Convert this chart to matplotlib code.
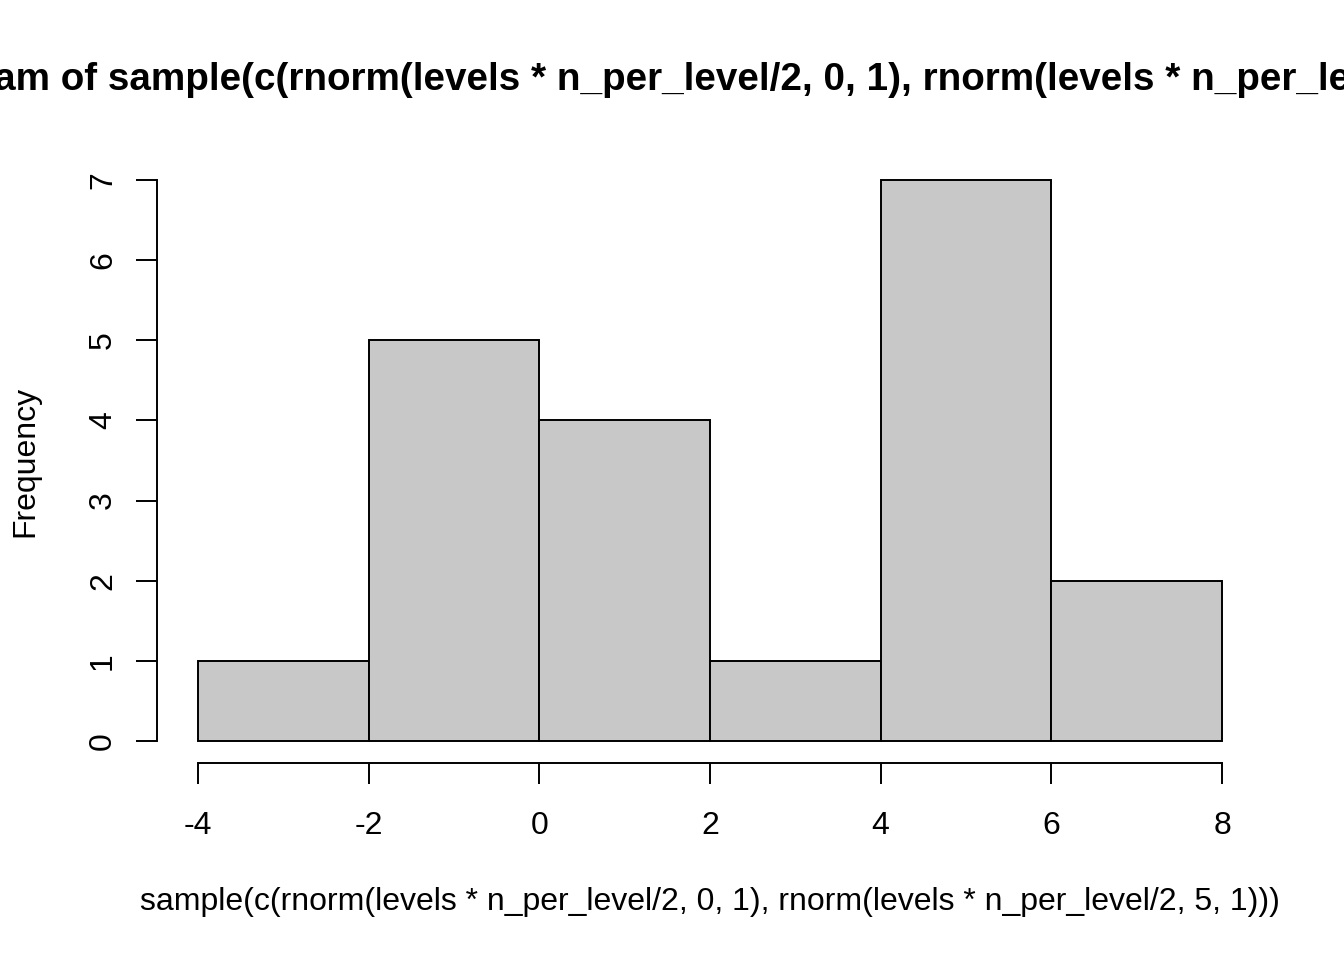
import matplotlib
matplotlib.use("Agg")
import matplotlib.pyplot as plt

bin_edges = [-4, -2, 0, 2, 4, 6, 8]
counts = [1, 5, 4, 1, 7, 2]
x_ticks = [-4, -2, 0, 2, 4, 6, 8]
y_ticks = [0, 1, 2, 3, 4, 5, 6, 7]
title = "Histogram of sample(c(rnorm(levels * n_per_level/2, 0, 1), rnorm(levels * n_per_level/2, 5, 1)))"
xlabel = "sample(c(rnorm(levels * n_per_level/2, 0, 1), rnorm(levels * n_per_level/2, 5, 1)))"
ylabel = "Frequency"

plt.rcParams['font.family'] = ['Liberation Sans', 'DejaVu Sans']
fig = plt.figure(figsize=(13.44, 9.6), dpi=100)
ax = fig.add_axes([157/1344, 1-763.4/960, (1263-157)/1344, (763.4-157.6)/960])

widths = [bin_edges[i+1]-bin_edges[i] for i in range(len(counts))]
ax.bar(bin_edges[:-1], counts, width=widths, align='edge', color='#C8C8C8',
       edgecolor='black', linewidth=1.4)

span = bin_edges[-1]-bin_edges[0]
ax.set_xlim(bin_edges[0]-0.04*span, bin_edges[-1]+0.04*span)
ymax = max(counts)
ax.set_ylim(-0.04*ymax, ymax*1.04)

for s in ['top', 'right']:
    ax.spines[s].set_visible(False)
ax.spines['left'].set_bounds(y_ticks[0], y_ticks[-1])
ax.spines['bottom'].set_bounds(x_ticks[0], x_ticks[-1])
for s in ['left', 'bottom']:
    ax.spines[s].set_linewidth(1.4)

fs = 23
ax.set_xticks(x_ticks)
ax.set_xticklabels([str(v) for v in x_ticks])
ax.set_yticks(y_ticks)
ax.set_yticklabels([str(v) for v in y_ticks], rotation=90, va='center')
ax.tick_params(axis='both', length=15, width=1.4, labelsize=fs)
ax.tick_params(axis='x', pad=19)
ax.tick_params(axis='y', pad=13)

fig.text(710/1344, 1-80/960, title, ha='center', va='center', fontsize=27.8, fontweight='bold')
fig.text(710/1344, 1-902/960, xlabel, ha='center', va='center', fontsize=fs)
fig.text(25/1344, 1-461/960, ylabel, ha='center', va='center', rotation=90, fontsize=fs)

fig.savefig("out.png", dpi=100)
